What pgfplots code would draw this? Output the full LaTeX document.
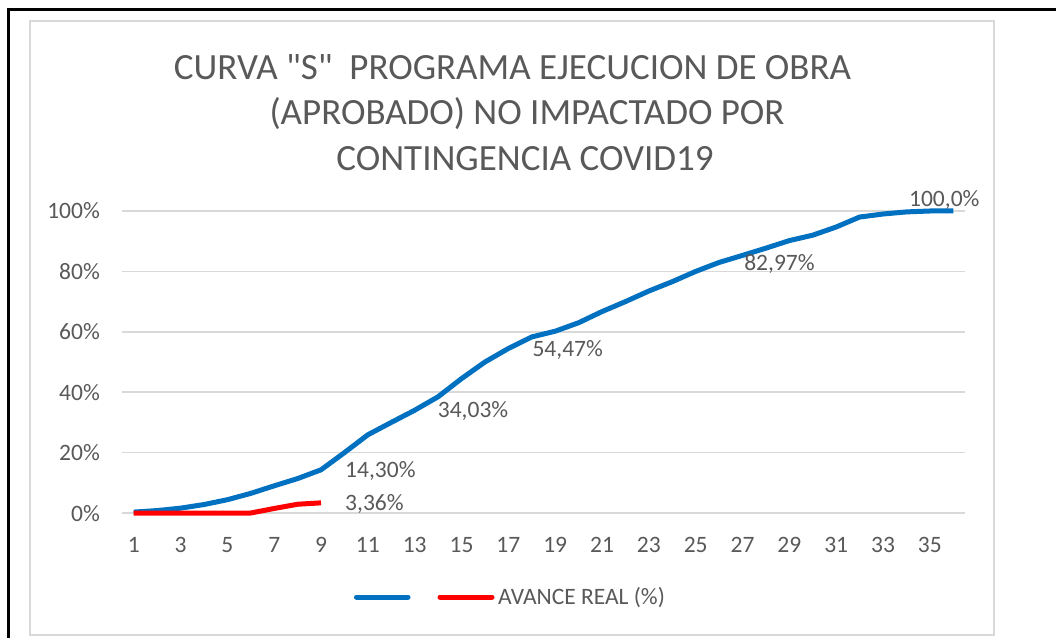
\documentclass[border=0pt]{standalone}
\usepackage{pgfplots}
\pgfplotsset{compat=1.18}
\usepackage{fontspec}
\setmainfont{Carlito}
\newfontfamily\titlefont{Carlito}[Ligatures=TeXOff]
\definecolor{exblue}{HTML}{0070C0}
\definecolor{exred}{HTML}{FF0000}
\definecolor{txt}{HTML}{595959}
\definecolor{gridc}{HTML}{D9D9D9}
\begin{document}
\begin{tikzpicture}[x=1pt,y=1pt]
\clip (0,0) rectangle (1056,637);
\fill[white] (0,0) rectangle (1056,637);
\draw[line width=3pt] (8,-10) -- (8,627) -- (1070,627);
\draw[gridc, line width=1.5pt] (30,2) rectangle (994,616);
\node[txt, anchor=base, font=\titlefont\fontsize{37}{44}\selectfont] at (512.5,557) {CURVA "S"\ \ PROGRAMA EJECUCION DE OBRA};
\node[txt, anchor=base, font=\titlefont\fontsize{37}{44}\selectfont] at (527,512) {(APROBADO) NO IMPACTADO POR};
\node[txt, anchor=base, font=\titlefont\fontsize{37}{44}\selectfont] at (525,466) {CONTINGENCIA COVID19};
\begin{axis}[
  at={(122pt,124pt)}, anchor=south west,
  scale only axis, width=843pt, height=302pt,
  xmin=0.5, xmax=36.5, ymin=0, ymax=100,
  clip=false,
  axis line style={draw=none},
  ymajorgrids,
  major grid style={gridc, line width=1.5pt},
  tick style={draw=none},
  xtick={1,3,5,7,9,11,13,15,17,19,21,23,25,27,29,31,33,35},
  xticklabels={1,3,5,7,9,11,13,15,17,19,21,23,25,27,29,31,33,35},
  ytick={0,20,40,60,80,100},
  yticklabels={0\%,20\%,40\%,60\%,80\%,100\%},
  tick label style={font=\fontsize{23.5}{28}\selectfont, text=txt, inner sep=0pt},
  xticklabel style={anchor=base, yshift=-39pt},
  yticklabel style={anchor=base east, xshift=-22pt, yshift=-8pt},
]
\addplot[exblue, line width=5pt, line join=round] coordinates {
(1,0.3) (2,0.8) (3,1.6) (4,2.8) (5,4.4) (6,6.5) (7,9.0) (8,11.4) (9,14.3)
(10,20.0) (11,25.9) (12,30.0) (13,34.03) (14,38.5) (15,44.5) (16,50.0)
(17,54.47) (18,58.3) (19,60.2) (20,63.0) (21,66.7) (22,70.0) (23,73.5)
(24,76.6) (25,80.0) (26,82.97) (27,85.3) (28,87.7) (29,90.2) (30,92.0)
(31,94.7) (32,98.0) (33,99.0) (34,99.7) (35,100.0) (36,100.0)};
\addplot[exred, line width=5pt, line join=round] coordinates {
(1,0) (2,0) (3,0) (4,0) (5,0) (6,0) (7,1.5) (8,2.9) (9,3.36)};
\begin{scope}[every node/.style={txt, inner sep=0pt, font=\fontsize{23.5}{28}\selectfont}]
\node[anchor=base west, xshift=24pt, yshift=-8pt] at (axis cs:9,14.3) {14,30\%};
\node[anchor=base west, xshift=24pt, yshift=-8pt] at (axis cs:9,3.36) {3,36\%};
\node[anchor=base west, xshift=23pt, yshift=-7pt] at (axis cs:13,34.03) {34,03\%};
\node[anchor=base west, xshift=24pt, yshift=-8pt] at (axis cs:17,54.47) {54,47\%};
\node[anchor=base west, xshift=25pt, yshift=-8pt] at (axis cs:26,82.97) {82,97\%};
\node[anchor=base, xshift=-9pt, yshift=4pt] at (axis cs:36,100) {100,0\%};
\end{scope}
\end{axis}
\draw[exblue, line width=5pt, line cap=round] (356.5,40) -- (408,40);
\draw[exred, line width=5pt, line cap=round] (440,40) -- (492,40);
\node[txt, inner sep=0pt, anchor=base west, font=\fontsize{23.5}{28}\selectfont] at (498,33) {AVANCE REAL (\%)};
\end{tikzpicture}
\end{document}
